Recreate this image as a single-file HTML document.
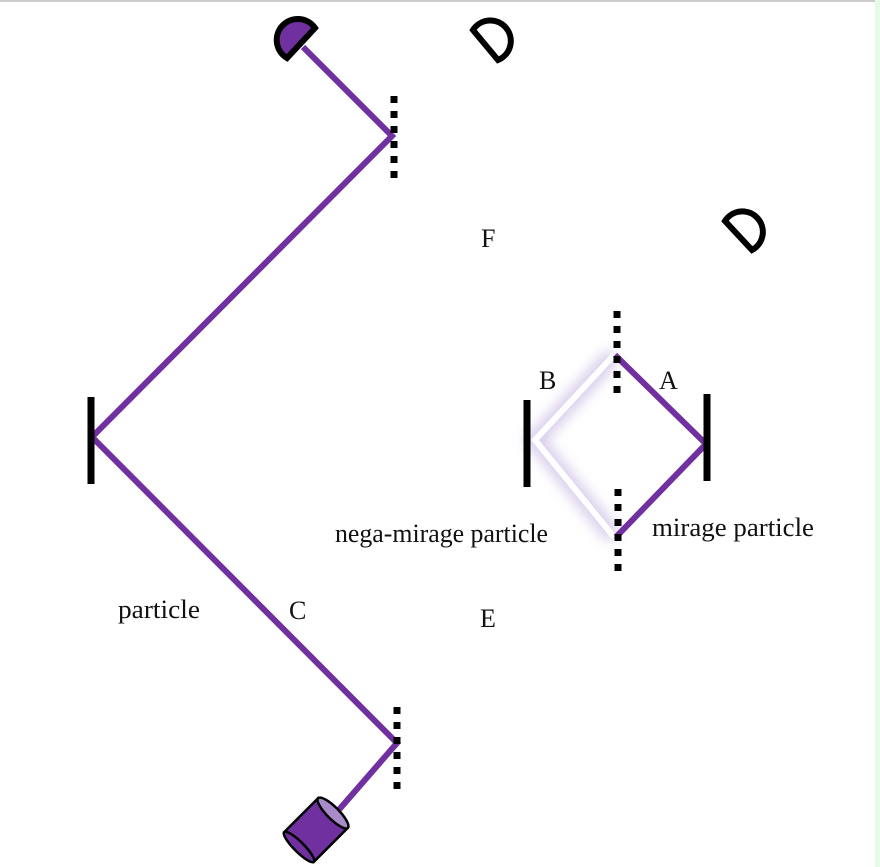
<!DOCTYPE html>
<html><head><meta charset="utf-8"><style>
html,body{margin:0;padding:0;background:#fff;}
svg{display:block}
text{font-family:"Liberation Serif",serif;font-size:26px;fill:#111}
</style></head><body>
<svg width="880" height="867" viewBox="0 0 880 867" xmlns="http://www.w3.org/2000/svg">
<defs>
<filter id="blur" x="-50%" y="-50%" width="200%" height="200%"><feGaussianBlur stdDeviation="6"/></filter>
</defs>
<rect x="0" y="0" width="880" height="867" fill="#fff"/>
<line x1="0" y1="1" x2="880" y2="1" stroke="#ccc" stroke-width="2"/>
<rect x="875" y="0" width="5" height="867" fill="#e6fbe6"/>

<!-- ghost beams -->
<polyline points="614,355 535,440 614,537" fill="none" stroke="#cbbbe3" stroke-width="18" filter="url(#blur)" opacity="0.7"/>
<polyline points="614,355 535,440 614,537" fill="none" stroke="#fff" stroke-width="6"/>

<!-- main beam -->
<polyline points="303,47 392,136 92,437 397,743 337,812" fill="none" stroke="#7030a0" stroke-width="6" stroke-linejoin="miter"/>
<polyline points="615,355 706,444 616,537" fill="none" stroke="#7030a0" stroke-width="6"/>

<!-- beam splitters -->
<g stroke="#000" stroke-width="7" stroke-dasharray="7 8">
<line x1="394" y1="96" x2="394" y2="180"/>
<line x1="397" y1="707" x2="397" y2="790"/>
<line x1="617" y1="311" x2="617" y2="395"/>
<line x1="618" y1="489" x2="618" y2="573"/>
</g>

<!-- mirrors -->
<g stroke="#000" stroke-width="7">
<line x1="91" y1="397" x2="91" y2="484"/>
<line x1="707" y1="394" x2="707" y2="481"/>
<line x1="527" y1="400" x2="527" y2="487"/>
</g>

<!-- detectors -->
<path d="M287,58 A21 21 0 1 1 315,28 Z" fill="#7030a0" stroke="#000" stroke-width="6" stroke-linejoin="miter"/>
<path d="M473,30 A20.5 20.5 0 1 1 498,60 Z" fill="none" stroke="#000" stroke-width="6" stroke-linejoin="miter"/>
<path d="M725,221 A20.5 20.5 0 1 1 752,250 Z" fill="none" stroke="#000" stroke-width="6" stroke-linejoin="miter"/>

<!-- laser -->
<g transform="translate(316,830) rotate(-45)">
<rect x="-24" y="-21" width="48" height="42" fill="#7030a0" stroke="#000" stroke-width="2.5"/>
<ellipse cx="-24" cy="0" rx="5" ry="21" fill="#7030a0" stroke="#000" stroke-width="2.5"/>
<ellipse cx="24" cy="0" rx="6" ry="21" fill="#a98bc9" stroke="#000" stroke-width="2.5"/>
</g>

<!-- labels -->
<text x="481" y="247">F</text>
<text x="539" y="389">B</text>
<text x="659" y="389">A</text>
<text x="335" y="542" textLength="213" lengthAdjust="spacingAndGlyphs">nega-mirage particle</text>
<text x="652" y="536" textLength="162" lengthAdjust="spacingAndGlyphs">mirage particle</text>
<text x="118" y="618" textLength="82" lengthAdjust="spacingAndGlyphs">particle</text>
<text x="289" y="619">C</text>
<text x="480" y="627">E</text>
</svg>
</body></html>
